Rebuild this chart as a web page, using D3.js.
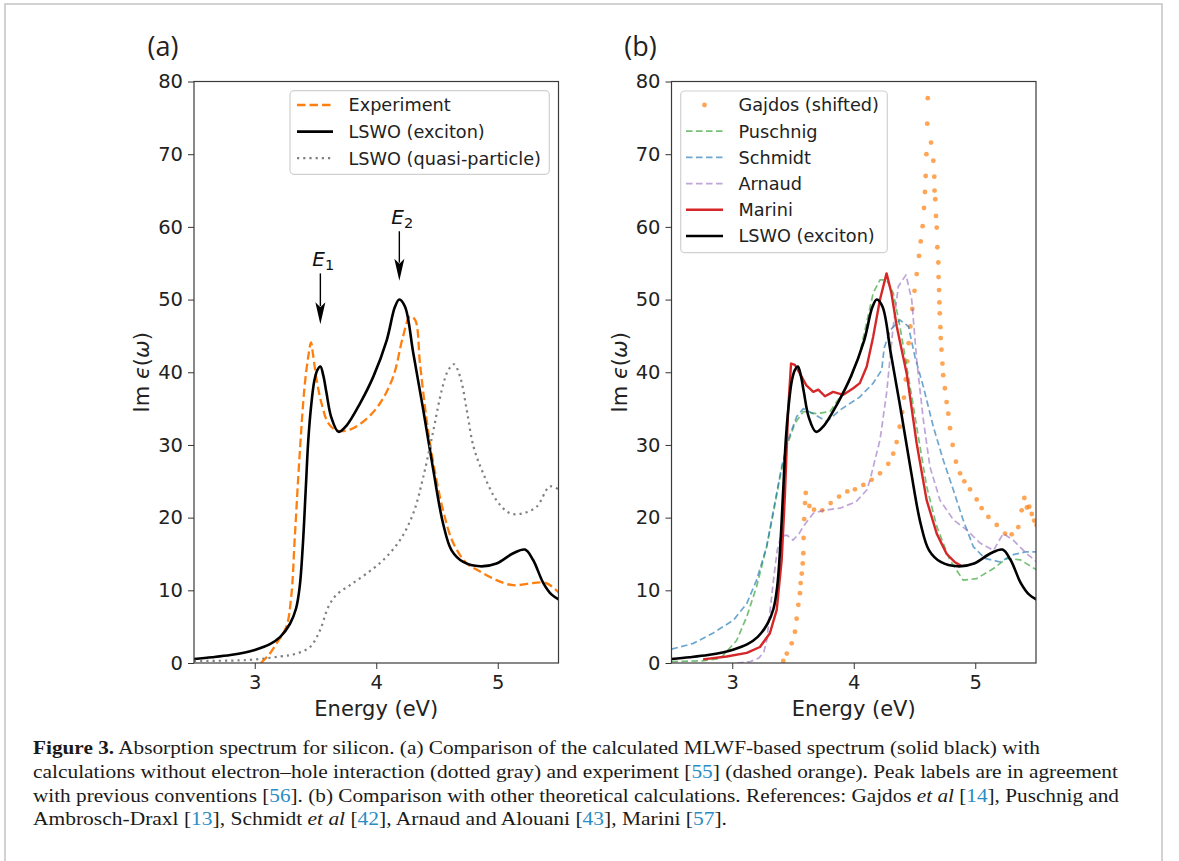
<!DOCTYPE html>
<html>
<head>
<meta charset="utf-8">
<script src="https://cdn.jsdelivr.net/npm/d3@7"></script>
<style>
body { margin: 0; background: #fff; }
</style>
</head>
<body>
<div id="fig"></div>
<script>
// ---- data: [energy eV, Im eps] ----
var exciton = [[2.5,0.55],[2.65,0.8],[2.8,1.1],[2.92,1.45],[3.0,1.8],[3.125,2.6],[3.21,3.6],[3.29,5.4],[3.34,7.5],[3.37,10.5],[3.395,16],[3.42,24],[3.44,30.5],[3.465,35.5],[3.49,38.8],[3.515,40.3],[3.54,40.8],[3.565,39.5],[3.59,37.2],[3.63,33.8],[3.69,31.8],[3.757,32.7],[3.866,35.7],[3.976,39.4],[4.086,44.4],[4.154,49.0],[4.19,50.0],[4.237,49.0],[4.305,42.6],[4.387,34.8],[4.47,26.5],[4.55,19.2],[4.62,15.5],[4.716,13.9],[4.854,13.3],[4.99,13.7],[5.128,15.1],[5.224,15.6],[5.29,14.2],[5.375,11.0],[5.444,9.4],[5.507,8.7]];

var experiment = [[3.05,0],[3.12,1.2],[3.18,2.7],[3.26,5.0],[3.30,9.1],[3.33,17.4],[3.37,28.8],[3.41,38],[3.44,42.1],[3.463,44.1],[3.48,42.4],[3.51,38.9],[3.55,35.7],[3.605,33],[3.674,32.0],[3.784,32.1],[3.92,33.6],[4.03,35.7],[4.14,39.4],[4.22,44.9],[4.278,47.7],[4.32,47.2],[4.36,41.2],[4.415,33.4],[4.47,27.5],[4.55,21.0],[4.634,16.5],[4.745,13.7],[4.854,12.6],[4.99,11.4],[5.128,10.7],[5.29,11.0],[5.40,11.0],[5.507,9.6]];

var quasiParticle = [[2.5,0.3],[2.93,0.4],[3.21,0.9],[3.345,1.3],[3.455,2.2],[3.537,4.5],[3.605,7.7],[3.674,9.4],[3.784,10.7],[3.92,12.3],[4.06,14.2],[4.195,16.9],[4.305,20.6],[4.387,25.6],[4.47,32],[4.54,37.6],[4.593,40.3],[4.64,41.1],[4.69,39.4],[4.745,34.8],[4.80,29.8],[4.88,26.1],[4.99,22.4],[5.10,20.6],[5.21,20.6],[5.32,21.5],[5.43,24.3],[5.507,23.8]];

var gajdos = [[3.42,0.3],[3.449,1.3],[3.489,2.7],[3.516,4.3],[3.53,6.1],[3.544,8.0],[3.557,9.6],[3.563,11.0],[3.572,12.3],[3.58,13.7],[3.585,15.1],[3.587,17.2],[3.592,19.8],[3.599,22.0],[3.605,23.4],[3.635,21.6],[3.673,21.1],[3.741,21.0],[3.81,22.0],[3.879,22.9],[3.947,23.6],[4.01,23.9],[4.079,24.5],[4.148,25.2],[4.216,26.1],[4.284,27.4],[4.325,28.8],[4.353,30.4],[4.378,32.5],[4.398,34.5],[4.413,36.5],[4.428,39],[4.44,41.5],[4.452,44],[4.466,46.3],[4.482,48.7],[4.5,51.2],[4.518,53.5],[4.537,56.0],[4.551,58.0],[4.567,60.1],[4.578,62.6],[4.586,64.8],[4.592,67.0],[4.598,70.0],[4.605,74.2],[4.609,77.7],[4.636,71.6],[4.655,69.1],[4.663,66.9],[4.665,65.0],[4.671,63.8],[4.677,61.5],[4.683,59.9],[4.688,57.2],[4.696,55.1],[4.698,53.1],[4.702,51.3],[4.705,49.6],[4.708,48.1],[4.713,46.2],[4.716,44.7],[4.722,43.1],[4.73,41.2],[4.736,39.6],[4.75,37.8],[4.764,35.9],[4.778,34.3],[4.792,32.3],[4.814,30.0],[4.841,27.7],[4.875,26.1],[4.91,25.0],[4.957,23.9],[5.012,22.5],[5.053,21.3],[5.108,20.1],[5.177,19.0],[5.245,17.8],[5.3,17.7],[5.354,18.7],[5.382,21.0],[5.404,22.7],[5.425,21.4],[5.445,21.5],[5.465,20.5],[5.485,19.6],[5.505,19.0]];

var puschnig = [[2.5,0.2],[2.75,0.3],[2.9,0.6],[3.036,3.1],[3.12,6.4],[3.2,10.5],[3.283,16],[3.338,20.6],[3.393,25.6],[3.448,29.8],[3.516,33],[3.585,34.6],[3.695,34.3],[3.805,34.6],[3.887,36.6],[3.97,38.9],[4.05,42.6],[4.16,50.9],[4.216,52.7],[4.27,52.7],[4.325,50.9],[4.38,46.3],[4.436,40.8],[4.518,32.5],[4.6,24.3],[4.683,18.8],[4.79,14.2],[4.9,11.4],[5.01,11.6],[5.15,13.0],[5.26,14.4],[5.37,14.2],[5.506,12.8]];

var schmidt = [[2.5,1.9],[2.68,2.7],[2.84,4.1],[3.01,5.9],[3.12,8.2],[3.2,11.4],[3.283,16],[3.35,22],[3.407,27],[3.46,30.7],[3.53,33.9],[3.585,35],[3.667,34.3],[3.777,33.2],[3.887,34.8],[4.05,36.6],[4.16,38.5],[4.23,40.3],[4.25,43.3],[4.3,45.8],[4.38,47.2],[4.45,46.3],[4.504,42.1],[4.573,38.0],[4.655,32.5],[4.737,27.9],[4.82,23.8],[4.9,19.7],[4.984,16],[5.08,14.4],[5.204,13.9],[5.313,14.9],[5.42,15.3],[5.506,15.3]];

var arnaud = [[3.04,0],[3.15,0.2],[3.22,0.7],[3.26,1.5],[3.285,3.2],[3.31,7],[3.34,11.5],[3.37,15.5],[3.4,17.4],[3.45,17.6],[3.5,16.9],[3.55,17.8],[3.585,18.8],[3.667,20.6],[3.75,21.0],[3.887,21.3],[4.02,22.2],[4.107,23.8],[4.134,25.2],[4.216,30.7],[4.27,37.1],[4.325,46.3],[4.367,51.8],[4.43,53.4],[4.477,50],[4.518,41.7],[4.573,33.4],[4.627,27],[4.71,22.4],[4.82,19.7],[4.93,18.3],[5.04,16.5],[5.15,15.5],[5.23,17.8],[5.313,16.9],[5.42,15.1],[5.506,13.9]];

var marini = [[2.76,0.5],[2.954,0.9],[3.12,1.4],[3.228,2.2],[3.31,4.1],[3.366,7.3],[3.407,14.2],[3.434,23.3],[3.46,34.8],[3.484,41.2],[3.516,41],[3.557,39.8],[3.61,38.2],[3.667,37.3],[3.708,37.6],[3.763,36.7],[3.83,37.3],[3.914,36.9],[3.996,37.8],[4.05,38.5],[4.107,40.8],[4.16,44.9],[4.216,50],[4.27,53.6],[4.31,50.9],[4.354,46.3],[4.436,39.8],[4.518,30.2],[4.6,22.4],[4.683,17.8],[4.765,15.0],[4.83,13.9],[4.88,13.4]];

var xDomain = [2.5, 5.5];
var yDomain = [0, 80];
var xTicks = [3, 4, 5];
var yTicks = [0, 10, 20, 30, 40, 50, 60, 70, 80];
var panelTitles = ["(a)", "(b)"];
var xLabel = "Energy (eV)";
var legendA = ["Experiment", "LSWO (exciton)", "LSWO (quasi-particle)"];
var legendB = ["Gajdos (shifted)", "Puschnig", "Schmidt", "Arnaud", "Marini", "LSWO (exciton)"];
// peak labels: subscript, energy, arrow tip and tail (Im eps units)
var peakLabels = [["1", 3.54, 46.6, 53.6], ["2", 4.19, 52.6, 59.4]];

var caption = [
  "**Figure 3.** Absorption spectrum for silicon. (a) Comparison of the calculated MLWF-based spectrum (solid black) with",
  "calculations without electron\u2013hole interaction (dotted gray) and experiment [55] (dashed orange). Peak labels are in agreement",
  "with previous conventions [56]. (b) Comparison with other theoretical calculations. References: Gajdos *et al* [14], Puschnig and",
  "Ambrosch-Draxl [13], Schmidt *et al* [42], Arnaud and Alouani [43], Marini [57]."
];

// ---- layout ----
var W = 1179, H = 861;
var sans = "'DejaVu Sans', sans-serif";
var plotTop = 81.5, plotBottom = 663, plotW = 364.5;
var panelLeft = [194, 671.5];
var capX = 33, capY0 = 754, capStep = 23.8, capWidths = [1007, 1085, 1086, 694];

var styles = {
  experiment: {stroke: "#ff7f0e", width: 2.3, dash: "8.5,4"},
  exciton: {stroke: "#000", width: 2.6, dash: null},
  quasi: {stroke: "#808080", width: 2.2, dash: "2.2,4"},
  puschnig: {stroke: "#2ca02c", width: 1.7, dash: "6.5,3.5", opacity: 0.65},
  schmidt: {stroke: "#1f77b4", width: 1.7, dash: "6.5,3.5", opacity: 0.65},
  arnaud: {stroke: "#9467bd", width: 1.7, dash: "6.5,3.5", opacity: 0.6},
  marini: {stroke: "#d62728", width: 2.4, dash: null}
};

var svg = d3.select("#fig").append("svg")
  .attr("width", W).attr("height", H)
  .style("font-family", sans);

svg.append("rect").attr("width", W).attr("height", H).attr("fill", "#fff");
// figure frame of the page
svg.append("rect")
  .attr("x", 5).attr("y", 4).attr("width", 1157).attr("height", H + 10)
  .attr("fill", "none").attr("stroke", "#c4c4c4").attr("stroke-width", 1.5);

function makePanel(i) {
  var x = d3.scaleLinear().domain(xDomain).range([panelLeft[i], panelLeft[i] + plotW]);
  var y = d3.scaleLinear().domain(yDomain).range([plotBottom, plotTop]);
  var g = svg.append("g");

  g.append("clipPath").attr("id", "clip" + i)
    .append("rect")
    .attr("x", x.range()[0]).attr("y", plotTop)
    .attr("width", plotW).attr("height", plotBottom - plotTop);

  var plot = g.append("g").attr("clip-path", "url(#clip" + i + ")");

  var xAxis = g.append("g")
    .attr("transform", "translate(0," + plotBottom + ")")
    .call(d3.axisBottom(x).tickValues(xTicks).tickSize(6).tickPadding(6).tickFormat(d3.format("d")));
  var yAxis = g.append("g")
    .attr("transform", "translate(" + x.range()[0] + ",0)")
    .call(d3.axisLeft(y).tickValues(yTicks).tickSize(6).tickPadding(5).tickFormat(d3.format("d")));
  [xAxis, yAxis].forEach(function(a) {
    a.select(".domain").remove();
    a.selectAll("line").attr("stroke", "#333").attr("stroke-width", 1);
    a.selectAll("text").style("font-family", sans).style("font-size", "19.5px").attr("fill", "#222");
  });

  g.append("rect")
    .attr("x", x.range()[0]).attr("y", plotTop)
    .attr("width", plotW).attr("height", plotBottom - plotTop)
    .attr("fill", "none").attr("stroke", "#3a3a3a").attr("stroke-width", 1.2);

  g.append("text")
    .attr("x", (x.range()[0] + x.range()[1]) / 2).attr("y", 716)
    .attr("text-anchor", "middle")
    .style("font-size", "21px").attr("fill", "#222")
    .text(xLabel);

  var yl = g.append("text")
    .attr("transform", "translate(" + (x.range()[0] - 45) + "," + ((plotTop + plotBottom) / 2) + ") rotate(-90)")
    .attr("text-anchor", "middle")
    .style("font-size", "21px").attr("fill", "#222");
  yl.append("tspan").text("Im ");
  yl.append("tspan").style("font-style", "italic").text("\u03f5");
  yl.append("tspan").text("(");
  yl.append("tspan").style("font-style", "italic").text("\u03c9");
  yl.append("tspan").text(")");

  g.append("text")
    .attr("x", x.range()[0] - 31).attr("y", 56)
    .attr("text-anchor", "middle")
    .style("font-family", "'Open Sans', sans-serif")
    .style("font-size", "27px").attr("fill", "#222")
    .text(panelTitles[i]);

  return {x: x, y: y, g: g, plot: plot};
}

function drawLine(p, data, st, curve) {
  var line = d3.line()
    .x(function(d) { return p.x(d[0]); })
    .y(function(d) { return p.y(d[1]); })
    .curve(curve || d3.curveCatmullRom.alpha(0.5));
  p.plot.append("path")
    .datum(data)
    .attr("d", line)
    .attr("fill", "none")
    .attr("stroke", st.stroke)
    .attr("stroke-width", st.width)
    .attr("stroke-opacity", st.opacity || 1)
    .attr("stroke-dasharray", st.dash)
    .attr("stroke-linejoin", "round");
}

function drawLegend(g, box, names, handles, rowY0, rowStep, hx0, hx1, tx) {
  g.append("rect")
    .attr("x", box[0]).attr("y", box[1]).attr("width", box[2]).attr("height", box[3])
    .attr("rx", 4).attr("fill", "#fff").attr("fill-opacity", 0.85)
    .attr("stroke", "#d0d0d0").attr("stroke-width", 1.2);
  names.forEach(function(n, k) {
    var yy = rowY0 + k * rowStep;
    var h = handles[k];
    if (h === "dot") {
      g.append("circle").attr("cx", (hx0 + hx1) / 2).attr("cy", yy).attr("r", 2.4)
        .attr("fill", "#ff7f0e").attr("fill-opacity", 0.7);
    } else {
      g.append("line").attr("x1", hx0).attr("x2", hx1).attr("y1", yy).attr("y2", yy)
        .attr("stroke", h.stroke).attr("stroke-width", h.width)
        .attr("stroke-opacity", h.opacity || 1).attr("stroke-dasharray", h.dash);
    }
    g.append("text").attr("x", tx).attr("y", yy).attr("dy", "0.36em")
      .style("font-size", "17.7px").attr("fill", "#222").text(n);
  });
}

// ---- panel (a) ----
var pa = makePanel(0);
drawLine(pa, experiment, styles.experiment);
drawLine(pa, exciton, styles.exciton);
drawLine(pa, quasiParticle, styles.quasi);

peakLabels.forEach(function(pk) {
  var px = pa.x(pk[1]), tip = pa.y(pk[2]), tail = pa.y(pk[3]);
  pa.g.append("line").attr("x1", px).attr("x2", px).attr("y1", tail).attr("y2", tip - 18)
    .attr("stroke", "#000").attr("stroke-width", 1.4);
  pa.g.append("path")
    .attr("d", "M" + px + "," + tip + "L" + (px - 5) + "," + (tip - 22) + "L" + px + "," + (tip - 17) + "L" + (px + 5) + "," + (tip - 22) + "Z")
    .attr("fill", "#000");
  var t = pa.g.append("text").attr("x", px - 8).attr("y", tail - 7)
    .style("font-size", "20px").attr("fill", "#111");
  t.append("tspan").style("font-style", "italic").text("E");
  t.append("tspan").attr("dy", 4).style("font-size", "14.5px").text(pk[0]);
});

drawLegend(pa.g, [290, 90.7, 259.3, 83.6], legendA,
  [styles.experiment, styles.exciton, styles.quasi], 105, 26.6, 297, 333, 348.5);

// ---- panel (b) ----
var pb = makePanel(1);
pb.plot.selectAll("circle.gaj")
  .data(gajdos).enter().append("circle")
  .attr("class", "gaj")
  .attr("cx", function(d) { return pb.x(d[0]); })
  .attr("cy", function(d) { return pb.y(d[1]); })
  .attr("r", 2.4)
  .attr("fill", "#ff7f0e").attr("fill-opacity", 0.7);
drawLine(pb, puschnig, styles.puschnig, d3.curveLinear);
drawLine(pb, schmidt, styles.schmidt, d3.curveLinear);
drawLine(pb, arnaud, styles.arnaud, d3.curveLinear);
drawLine(pb, marini, styles.marini, d3.curveLinear);
drawLine(pb, exciton, styles.exciton);

drawLegend(pb.g, [680.7, 91, 206.6, 161.7], legendB,
  ["dot", styles.puschnig, styles.schmidt, styles.arnaud, styles.marini, styles.exciton],
  105, 26.2, 686, 723, 738.5);

// ---- caption ----
var capFont = "'Liberation Serif', 'Times New Roman', serif";
caption.forEach(function(line, k) {
  var t = svg.append("text")
    .attr("x", capX).attr("y", capY0 + k * capStep)
    .attr("textLength", capWidths[k]).attr("lengthAdjust", "spacingAndGlyphs")
    .style("font-family", capFont).style("font-size", "19.5px").attr("fill", "#1a1a1a");
  line.split(/(\*\*[^*]+\*\*|\*[^*]+\*|\[\d+\])/).forEach(function(part) {
    if (!part) return;
    if (part.indexOf("**") === 0) {
      t.append("tspan").style("font-weight", "bold").text(part.slice(2, -2));
    } else if (part[0] === "*") {
      t.append("tspan").style("font-style", "italic").text(part.slice(1, -1));
    } else if (part[0] === "[") {
      t.append("tspan").text("[");
      t.append("tspan").attr("fill", "#2a8cc4").text(part.slice(1, -1));
      t.append("tspan").text("]");
    } else {
      t.append("tspan").text(part);
    }
  });
});
</script>
</body>
</html>
